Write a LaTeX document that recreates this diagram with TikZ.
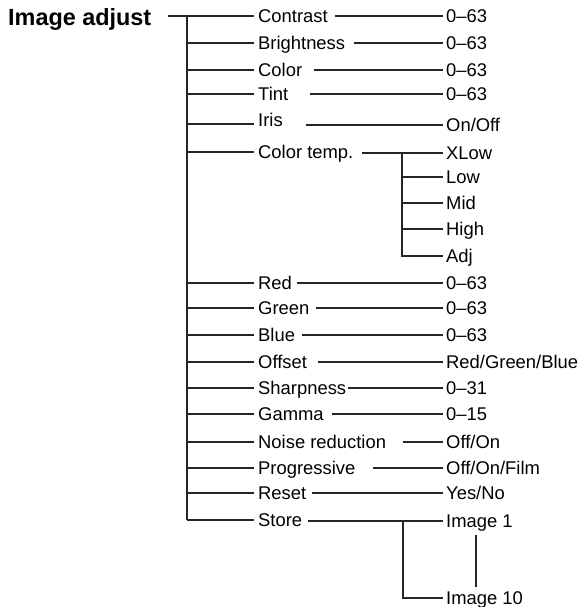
\documentclass[tikz,border=0pt]{standalone}
\usepackage{fontspec}
\setmainfont{Liberation Sans}
\begin{document}
\begin{tikzpicture}[x=1pt,y=-1pt,
  conn/.style={draw=black!85, line width=1.1pt},
  lbl/.style={anchor=west, inner xsep=4pt, inner ysep=0pt, font=\fontsize{18.4}{20}\selectfont, text height=13pt, text depth=0pt},
  val/.style={anchor=west, inner xsep=3pt, inner ysep=0pt, font=\fontsize{18.4}{20}\selectfont, text height=13pt, text depth=0pt},
  ttl/.style={anchor=base west, inner sep=0pt, font=\fontsize{23.4}{26}\selectfont\bfseries}]
\useasboundingbox (0,0) rectangle (582,607);
% title
\node[ttl] (title) at (8,26) {Image adjust};
% labels
\node[lbl] (l1)  at (254,16)  {Contrast};
\node[lbl] (l2)  at (254,43)  {Brightness};
\node[lbl] (l3)  at (254,70)  {Color};
\node[lbl] (l4)  at (254,94)  {Tint};
\node[lbl] (l5)  at (254,120) {Iris};
\node[lbl] (l6)  at (254,152) {Color temp.};
\node[lbl] (l7)  at (254,283) {Red};
\node[lbl] (l8)  at (254,308) {Green};
\node[lbl] (l9)  at (254,335) {Blue};
\node[lbl] (l10) at (254,362) {Offset};
\node[lbl] (l11) at (254,388) {Sharpness};
\node[lbl] (l12) at (254,414) {Gamma};
\node[lbl] (l13) at (254,442) {Noise reduction};
\node[lbl] (l14) at (254,468) {Progressive};
\node[lbl] (l15) at (254,493) {Reset};
\node[lbl] (l16) at (254,520) {Store};
% values
\node[val] (v1)  at (443,16)  {0–63};
\node[val] (v2)  at (443,43)  {0–63};
\node[val] (v3)  at (443,70)  {0–63};
\node[val] (v4)  at (443,94)  {0–63};
\node[val] (v5)  at (443,125) {On/Off};
\node[val] (c1)  at (443,153) {XLow};
\node[val] (c2)  at (443,177) {Low};
\node[val] (c3)  at (443,203) {Mid};
\node[val] (c4)  at (443,229) {High};
\node[val] (c5)  at (443,256) {Adj};
\node[val] (v7)  at (443,283) {0–63};
\node[val] (v8)  at (443,308) {0–63};
\node[val] (v9)  at (443,335) {0–63};
\node[val] (v10) at (443,362) {Red/Green/Blue};
\node[val] (v11) at (443,388) {0–31};
\node[val] (v12) at (443,414) {0–15};
\node[val] (v13) at (443,442) {Off/On};
\node[val] (v14) at (443,468) {Off/On/Film};
\node[val] (v15) at (443,493) {Yes/No};
\node[val] (s1)  at (443,521) {Image 1};
\node[val] (s2)  at (443,598) {Image 10};
% trunk
\coordinate (tl) at (168,16);
\coordinate (ttop) at (187,16);
\coordinate (tbot) at (187,520);
\draw[conn] (tl) -- (l1.west);
\draw[conn] (ttop) -- (tbot);
\foreach \n in {l2,l3,l4,l6,l7,l8,l9,l10,l11,l12,l13,l14,l15,l16}
  \draw[conn] (ttop |- \n.west) -- (\n.west);
\coordinate (iris) at (187,124);
\draw[conn] (iris) -- (l5.west |- iris);
% right connectors
\draw[conn] (v1.west) -- ++(-108,0);
\draw[conn] (v2.west) -- ++(-89,0);
\draw[conn] (v3.west) -- ++(-129,0);
\draw[conn] (v4.west) -- ++(-133,0);
\draw[conn] (v5.west) -- ++(-137,0);
\draw[conn] (c1.west) -- ++(-81,0);
\draw[conn] (v7.west) -- ++(-146,0);
\draw[conn] (v8.west) -- ++(-127,0);
\draw[conn] (v9.west) -- ++(-141,0);
\draw[conn] (v10.west) -- ++(-125,0);
\draw[conn] (v11.west) -- ++(-95,0);
\draw[conn] (v12.west) -- ++(-111,0);
\draw[conn] (v13.west) -- ++(-40,0);
\draw[conn] (v14.west) -- ++(-70,0);
\draw[conn] (v15.west) -- ++(-131,0);
\draw[conn] (s1.west) -- ++(-135,0);
% colour temp sub-tree
\coordinate (ct) at (402,153);
\draw[conn] (ct) -- (ct |- c5.west) -- (c5.west);
\foreach \n in {c2,c3,c4}
  \draw[conn] (ct |- \n.west) -- (\n.west);
% store sub-tree
\coordinate (st) at (403,521);
\draw[conn] (st) -- (st |- s2.west) -- (s2.west);
\coordinate (ia) at (476,535);
\coordinate (ib) at (476,587);
\draw[conn] (ia) -- (ib);
\end{tikzpicture}
\end{document}
